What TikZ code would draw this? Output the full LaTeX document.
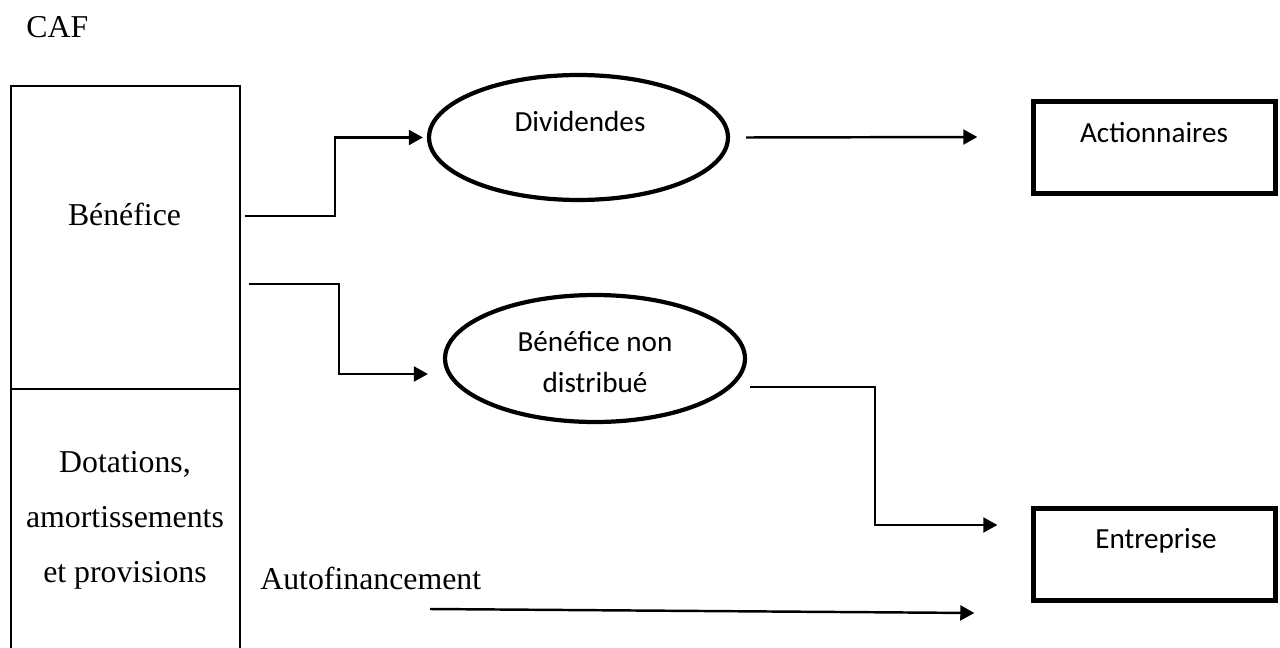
\documentclass[tikz,border=0pt]{standalone}
\usepackage{fontspec}
\setmainfont{Liberation Serif}
\newfontfamily\calibri{Carlito}
\usetikzlibrary{arrows.meta,calc,shapes.geometric}

\begin{document}
\begin{tikzpicture}[x=0.02cm,y=-0.02cm,
    serif/.style={font=\fontsize{18.1}{31.3}\selectfont,inner sep=0pt},
    sans/.style={font=\calibri\fontsize{16.6}{23.3}\selectfont,inner sep=0pt},
    cell/.style={draw,line width=1.1pt,minimum width=4.58cm,inner sep=0pt},
    oval/.style={draw,ellipse,line width=2.4pt,minimum width=5.98cm,minimum height=2.5cm,inner sep=0pt},
    party/.style={draw,line width=2.8pt,minimum width=4.83cm,minimum height=1.85cm,inner sep=0pt},
    flow/.style={-{Triangle[length=8pt,width=8.5pt]},line width=1.4pt}]
    \useasboundingbox (0,0) rectangle (1280,648);
    \clip (0,0) rectangle (1280,648);
    \node[serif,anchor=base west] (caf) at (26,38) {CAF};
    % left column
    \node[cell,minimum height=6.06cm] (benefbox) at (125.5,237.5) {};
    \node[cell,minimum height=6.4cm] (dotbox) at (125.5,549) {};
    \node[serif,anchor=base] (benef) at (124.5,226) {Bénéfice};
    \node[serif,align=center] (dot) at (125,520) {Dotations,\\amortissements\\et provisions};
    % ovals
    \node[oval] (divid) at (578.5,137.5) {};
    \node[sans,anchor=base] (dividtxt) at (580,132) {Dividendes};
    \node[oval,minimum width=6cm,minimum height=2.54cm] (nondist) at (595,358.5) {};
    \node[sans,align=center] (nondisttxt) at (595,362) {Bénéfice non\\distribué};
    % right boxes
    \node[party] (action) at (1154.5,147.5) {};
    \node[sans,anchor=base] (actiontxt) at (1154,143) {Actionnaires};
    \node[party] (entre) at (1154.5,554.5) {};
    \node[sans,anchor=base] (entretxt) at (1156,548) {Entreprise};
    \node[serif,anchor=base west] (auto) at (260,589) {Autofinancement};
    % flows
    \coordinate (o1) at (245,216);
    \coordinate (o2) at (249,284);
    \coordinate (o3) at (430,609);
    \draw[flow] (o1) -- ++(90,0) |- ([xshift=-0.08cm]divid.west);
    \draw[flow] (o2) -- ++(90,0) |- ($(nondist.west)+(-15,15.5)$);
    \draw[flow] ($(divid.east)+(16,0)$) -- ($(action.west)+(-54,-10.5)$);
    \draw[flow] ($(nondist.east)+(3,28.5)$) -- ++(125,0) |- ($(entre.west)+(-34,-29.5)$);
    \draw[flow] (o3) -- ($(entre.west)+(-57,58.5)$);
\end{tikzpicture}
\end{document}
